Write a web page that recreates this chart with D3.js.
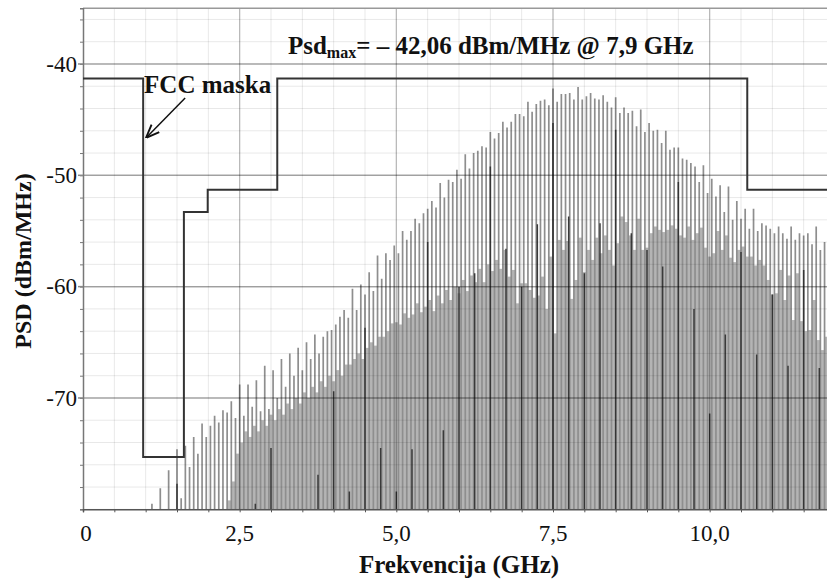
<!DOCTYPE html>
<html>
<head>
<meta charset="utf-8">
<script src="https://cdn.jsdelivr.net/npm/d3@7"></script>
<style>
body{margin:0;background:#fff;}
text{font-family:"Liberation Serif","Times New Roman",serif;fill:#111;}
</style>
</head>
<body>
<div class="canvas"></div>
<script>
// FCC mask (GHz / dBm/MHz)
const maskF=[0,0.96,1.61,1.99,3.1,10.6,12];
const maskDb=[-41.3,-75.3,-53.3,-51.3,-41.3,-51.3,-51.3];

// spectral lines, first one at 1.1 GHz, one every 1/15 GHz
const lineF0=1.1, lineDf=1/15;
const lineDb=[
-79.5,-81,-78.1,-81,-76.5,-81,-74.6,-79.0,-74.3,-76.2,
-73.5,-75.0,-72.3,-73.5,-72.5,-71.6,-72.2,-71.1,-71.3,-70.3,
-71.8,-68.8,-71.6,-68.8,-70.8,-68.4,-71.2,-67.1,-71.0,-67.5,
-70.0,-66.5,-69.0,-66.0,-68.0,-65.5,-67.5,-65.0,-66.5,-64.3,
-66.0,-64.5,-64.0,-63.9,-63.4,-62.7,-62.1,-62.8,-60.2,-62.1,
-59.8,-60.7,-58.7,-60.4,-57.2,-59.3,-57.0,-57.6,-56.3,-57.0,
-55.0,-55.8,-55.0,-53.9,-54.3,-53.4,-53.0,-52.3,-52.9,-50.7,
-52.0,-50.4,-50.6,-49.5,-50.3,-48.1,-49.4,-48.0,-47.8,-47.4,
-47.5,-46.1,-46.7,-46.2,-45.2,-45.7,-45.2,-44.5,-44.5,-44.7,
-43.4,-44.3,-43.6,-43.3,-43.2,-43.7,-42.2,-43.4,-42.7,-42.7,
-42.6,-43.2,-42.06,-43.2,-42.9,-42.6,-43.1,-43.2,-42.8,-43.4,
-43.9,-43.0,-44.4,-43.9,-44.4,-44.2,-45.6,-44.1,-46.1,-45.3,
-46.0,-45.9,-47.1,-46.0,-47.7,-47.5,-47.5,-48.5,-48.6,-48.9,
-49.2,-50.6,-49.1,-51.6,-50.3,-51.9,-50.9,-53.3,-51.0,-54.0,
-52.3,-53.9,-53.0,-54.8,-53.0,-55.0,-54.3,-54.5,-54.8,-55.2,
-54.6,-55.2,-55.7,-54.6,-55.8,-55.2,-55.4,-55.2,-56.2,-54.6,
-56.7,-56.0
];
// level of the dense part between one line and the next
const gapDb=[
-81,-81,-81,-81,-81,-81,-81,-81,-81,-81,
-81,-81,-81,-81,-81,-81,-81,-81,-79.2,-77.5,
-75.0,-74.0,-73.0,-73.5,-72.5,-73.0,-72.0,-72.5,-71.5,-72.0,
-71.0,-71.5,-70.5,-71.0,-70.0,-70.5,-69.5,-70.0,-69.0,-69.5,
-68.5,-69.0,-68.0,-68.5,-67.5,-68.0,-67.0,-67.0,-66.5,-66.0,
-66.5,-65.5,-65.0,-65.3,-64.5,-64.5,-64.0,-63.3,-63.2,-63.4,
-62.4,-62.8,-62.5,-61.5,-62.3,-61.8,-61.2,-62.2,-60.8,-61.5,
-60.3,-61.2,-60.0,-60.6,-59.4,-60.4,-59.0,-59.6,-58.4,-59.6,
-58.0,-58.6,-57.6,-58.4,-56.7,-59.1,-58.5,-61.5,-59.7,-59.7,
-60.3,-61.0,-60.8,-59.1,-62.0,-57.3,-64.2,-55.8,-56.7,-55.9,
-61.1,-59.4,-55.6,-58.7,-56.7,-57.6,-55.6,-57.0,-55.4,-56.7,
-58.1,-56.1,-53.7,-54.2,-55.4,-56.7,-53.9,-56.7,-56.5,-55.2,
-54.6,-54.9,-55.1,-54.9,-54.5,-54.8,-55.4,-55.6,-54.6,-55.8,
-55.2,-54.7,-56.5,-57.3,-57.0,-55.0,-56.7,-55.4,-57.4,-57.8,
-56.7,-56.4,-57.3,-57.3,-58.1,-57.6,-58.1,-59.4,-60.7,-60.6,
-58.5,-61.2,-59.0,-63.0,-58.8,-63.1,-64.0,-63.9,-61.2,-64.8,
-65.7,-64.5
];
// darker lines, one every 0.25 GHz from 1.5 GHz
const darkF0=1.5, darkDf=0.25;
const darkDb=[
-77.7,-81,-81,-81,-81,-79.5,-74.5,-81,-81,-76.9,
-69.4,-78.4,-63.7,-74.5,-78.4,-74.6,-56.0,-72.9,-60.0,-58.8,
-49.2,-56.6,-60.0,-54.4,-45.3,-53.7,-58.8,-54.3,-45.9,-55.2,
-56.7,-58.2,-50.6,-62.0,-71.4,-64.3,-56.9,-66.1,-60.7,-67.1,
-58.5,-67.3
];

const xTicks=[0,2.5,5,7.5,10];
const xTickLabels=['0','2,5','5,0','7,5','10,0'];
const yTicks=[-40,-50,-60,-70];

const x=d3.scaleLinear().domain([0,12]).range([83,835]);
const y=d3.scaleLinear().domain([-80,-35]).range([509.3,8.3]);

const svg=d3.select('.canvas')
.append('svg')
.attr('width',827)
.attr('height',581);

svg.append('clipPath').attr('id','plot')
.append('rect')
.attr('x',x(0)).attr('y',y(-35))
.attr('width',x(12)-x(0)).attr('height',y(-80)-y(-35));

const plot=svg.append('g').attr('clip-path','url(#plot)');

const lineF=i=>lineF0+i*lineDf;

// dense part between lines
plot.append('g').selectAll('rect')
.data(gapDb.map((v,i)=>({i,v})).filter(d=>d.v>-80))
.enter().append('rect')
.attr('x',d=>x(lineF(d.i)))
.attr('width',d=>x(lineF(d.i+1))-x(lineF(d.i)))
.attr('y',d=>y(d.v))
.attr('height',d=>y(-80)-y(d.v))
.attr('fill','#b4b4b4');

// spectral lines
plot.append('g').selectAll('line')
.data(lineDb.map((v,i)=>({i,v})).filter(d=>d.v>-80))
.enter().append('line')
.attr('x1',d=>x(lineF(d.i))).attr('x2',d=>x(lineF(d.i)))
.attr('y1',y(-80)).attr('y2',d=>y(d.v))
.attr('stroke','#8e8e8e')
.attr('stroke-width',1.7);

// darker lines
plot.append('g').selectAll('line')
.data(darkDb.map((v,i)=>({f:darkF0+i*darkDf,v})).filter(d=>d.v>-80))
.enter().append('line')
.attr('x1',d=>x(d.f)).attr('x2',d=>x(d.f))
.attr('y1',y(-80)).attr('y2',d=>y(d.v))
.attr('stroke','#3a3a3a')
.attr('stroke-width',1.5);

// grid over the spectrum
const grid=svg.append('g').attr('clip-path','url(#plot)');
grid.selectAll('.vmin').data(d3.range(0,12.01,0.5))
.enter().append('line')
.attr('x1',d=>x(d)).attr('x2',d=>x(d))
.attr('y1',y(-80)).attr('y2',y(-35))
.attr('stroke','rgba(0,0,0,0.09)');
grid.selectAll('.hmin').data(d3.range(-80,-34,2))
.enter().append('line')
.attr('x1',x(0)).attr('x2',x(12))
.attr('y1',d=>y(d)).attr('y2',d=>y(d))
.attr('stroke','rgba(0,0,0,0.09)');
grid.selectAll('.vmaj').data(xTicks)
.enter().append('line')
.attr('x1',d=>x(d)).attr('x2',d=>x(d))
.attr('y1',y(-80)).attr('y2',y(-35))
.attr('stroke','rgba(0,0,0,0.22)')
.attr('stroke-width',1.3);
grid.selectAll('.hmaj').data(yTicks)
.enter().append('line')
.attr('x1',x(0)).attr('x2',x(12))
.attr('y1',d=>y(d)).attr('y2',d=>y(d))
.attr('stroke','rgba(0,0,0,0.32)')
.attr('stroke-width',1.5);

// frame
svg.append('line')
.attr('x1',x(0)).attr('x2',x(12)).attr('y1',y(-35)).attr('y2',y(-35))
.attr('stroke','#999').attr('stroke-width',1.5);

// axes
const yAxis=d3.axisLeft(y).tickValues(d3.range(-80,-34,2)).tickSize(3).tickFormat('');
svg.append('g').attr('transform',`translate(${x(0)},0)`).call(yAxis)
.call(g=>g.selectAll('line,path').attr('stroke','#777'))
.call(g=>g.select('.domain').attr('stroke-width',1.5));
svg.append('g').selectAll('line').data(yTicks).enter().append('line')
.attr('x1',x(0)-5).attr('x2',x(0)).attr('y1',d=>y(d)).attr('y2',d=>y(d))
.attr('stroke','#888').attr('stroke-width',1.5);
svg.append('g').selectAll('text').data(yTicks).enter().append('text')
.attr('x',x(0)-6).attr('y',d=>y(d)).attr('dy','0.33em')
.attr('text-anchor','end')
.style('font-size','23px')
.text(d=>d);

const xAxis=d3.axisBottom(x).tickValues(d3.range(0,12.01,0.5)).tickSize(3).tickFormat('');
svg.append('g').attr('transform',`translate(0,${y(-80)})`).call(xAxis)
.call(g=>g.selectAll('line,path').attr('stroke','#555'))
.call(g=>g.select('.domain').attr('stroke-width',1.5));
svg.append('g').selectAll('text').data(xTicks).enter().append('text')
.attr('x',d=>x(d)+(d===0?3:0)).attr('y',541)
.attr('text-anchor','middle')
.style('font-size','23px')
.text((d,i)=>xTickLabels[i]);

// axis titles
svg.append('text')
.attr('transform',`translate(31,261) rotate(-90)`)
.attr('text-anchor','middle')
.style('font-size','24px').style('font-weight','bold')
.text('PSD (dBm/MHz)');
svg.append('text')
.attr('x',459).attr('y',573)
.attr('text-anchor','middle')
.style('font-size','25px').style('font-weight','bold')
.text('Frekvencija (GHz)');

// FCC mask
const mask=d3.line()
.x(d=>x(d[0])).y(d=>y(d[1]))
.curve(d3.curveStepAfter);
svg.append('path')
.attr('clip-path','url(#plot)')
.attr('d',mask(maskF.map((f,i)=>[f,maskDb[i]])))
.attr('fill','none')
.attr('stroke','#333')
.attr('stroke-width',2);

// annotations
svg.append('defs').append('marker')
.attr('id','arrow').attr('viewBox','0 0 10 10')
.attr('refX',9).attr('refY',5)
.attr('markerWidth',9).attr('markerHeight',9)
.attr('orient','auto')
.append('path').attr('d','M0,1 L10,5 L0,9').attr('fill','none').attr('stroke','#111').attr('stroke-width',1.4);

svg.append('line')
.attr('x1',x(1.63)).attr('y1',y(-43.05))
.attr('x2',x(1.02)).attr('y2',y(-46.56))
.attr('stroke','#111').attr('stroke-width',1.5)
.attr('marker-end','url(#arrow)');

svg.append('text')
.attr('x',x(0.975)).attr('y',y(-42.6))
.style('font-size','25px').style('font-weight','bold')
.text('FCC maska');

const title=svg.append('text')
.attr('x',x(3.27)).attr('y',y(-39.1))
.style('font-size','25px').style('font-weight','bold');
title.append('tspan').text('Psd');
title.append('tspan').attr('dy',4).style('font-size','16px').text('max');
title.append('tspan').attr('dy',-4).text('= – 42,06 dBm/MHz @ 7,9 GHz');
</script>
</body>
</html>
